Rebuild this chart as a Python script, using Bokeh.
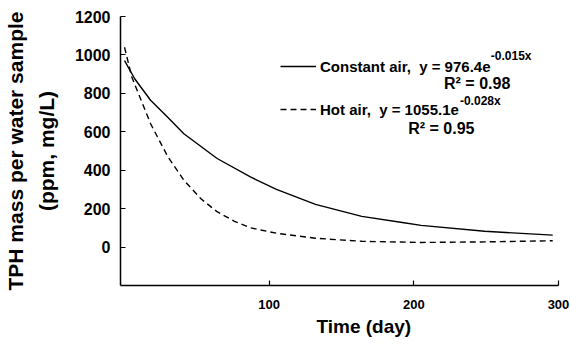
from bokeh.plotting import figure
from bokeh.models import (FixedTicker, Range1d, Legend, LegendItem, Label, Title)
from bokeh.embed import file_html
from bokeh.resources import INLINE

# ---- data ----
days_const = [0, 7, 18, 30, 41, 64, 87, 105, 132, 164, 192, 205, 249, 296]
tph_const = [970, 876, 764, 674, 590, 461, 365, 300, 222, 160, 128, 113, 82, 62]

days_hot = [0, 5, 18, 30, 41, 53, 64, 76, 87, 105, 132, 164, 205, 250, 296]
tph_hot = [1040, 885, 642, 469, 348, 250, 184, 134, 100, 72, 46, 30, 24, 27, 33]

x_ticks = [100, 200, 300]
y_ticks = [0, 200, 400, 600, 800, 1000, 1200]

FONT = "Liberation Sans"

p = figure(width=570, height=345, output_backend="svg", toolbar_location=None,
           x_range=Range1d(-2.8, 300), y_range=Range1d(-200, 1200),
           min_border_left=118, min_border_right=12, min_border_top=16,
           min_border_bottom=60)
p.outline_line_color = None
p.xgrid.visible = False
p.ygrid.visible = False
p.background_fill_color = "white"
p.border_fill_color = "white"

# axes
for ax in (p.xaxis[0], p.yaxis[0]):
    ax.axis_line_width = 1.5
    ax.axis_line_color = "black"
    ax.major_tick_in = 5
    ax.major_tick_out = 0
    ax.minor_tick_in = 0
    ax.minor_tick_out = 0
    ax.major_tick_line_color = "black"
    ax.major_tick_line_width = 1.2
    ax.major_label_text_font = FONT
    ax.major_label_text_font_style = "bold"
    ax.major_label_text_color = "black"
    ax.axis_label_text_font = FONT
    ax.axis_label_text_font_style = "bold"
    ax.axis_label_text_color = "black"

p.xaxis.ticker = FixedTicker(ticks=x_ticks)
p.yaxis.ticker = FixedTicker(ticks=y_ticks)
p.xaxis.major_label_text_font_size = "13px"
p.yaxis.major_label_text_font_size = "16px"
p.xaxis.major_label_standoff = 14
p.yaxis.major_label_standoff = 10

p.yaxis.axis_label = "TPH mass per water sample\n(ppm, mg/L)"
p.yaxis.axis_label_text_font_size = "21px"
p.yaxis.axis_label_text_line_height = 1.35
p.yaxis.axis_label_standoff = 14

# x-axis title (sits a little right of the frame centre in the reference)
xt = Title(text="Time (day)", align="left", offset=196, standoff=4,
           text_font=FONT, text_font_style="bold", text_font_size="19px",
           text_color="black")
p.add_layout(xt, "below")

# curves
r1 = p.line(days_const, tph_const, line_color="black", line_width=1.4)
r2 = p.line(days_hot, tph_hot, line_color="black", line_width=1.4,
            line_dash="6 4")

legend = Legend(items=[
    LegendItem(label="Constant air,  y = 976.4e", renderers=[r1]),
    LegendItem(label="Hot air,  y = 1055.1e", renderers=[r2]),
], location=(160, 166), orientation="vertical")
legend.border_line_color = None
legend.background_fill_alpha = 0
legend.padding = 0
legend.margin = 0
legend.spacing = 23
legend.glyph_width = 36
legend.glyph_height = 20
legend.label_height = 20
legend.label_standoff = 4
legend.label_text_font = FONT
legend.label_text_font_style = "bold"
legend.label_text_font_size = "15px"
legend.label_text_color = "black"
p.add_layout(legend, "center")

# helpers: pixel position -> data position for the annotation texts
def dx(px):
    return -2.8 + (px - 118) / 440 * 302.8

def dy(py):
    return 1200 - (py - 16) / 269 * 1400

def add_text(txt, px, py, size):
    p.add_layout(Label(x=dx(px), y=dy(py), text=txt, text_font=FONT,
                       text_font_style="bold", text_font_size=size,
                       text_color="black", text_baseline="middle",
                       text_align="left"))

add_text("-0.015x", 490, 55, "12px")
add_text("R² = 0.98", 443, 83, "16px")
add_text("-0.028x", 459, 100, "12px")
add_text("R² = 0.95", 407, 128, "16px")

open("out.html", "w").write(file_html(p, INLINE))
